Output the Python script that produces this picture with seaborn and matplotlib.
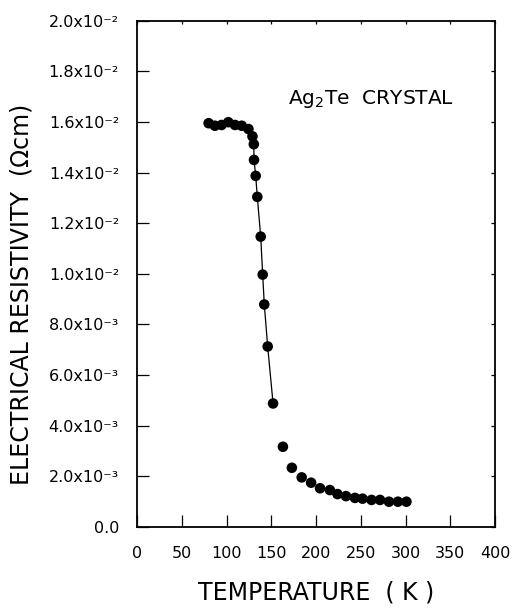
import matplotlib
matplotlib.use("Agg")
import matplotlib.pyplot as plt
import seaborn as sns
import pandas as pd

# Measured resistivity of the Ag2Te crystal versus temperature
temperature_k = [80, 87, 94.5, 102, 109.5, 117, 124.5, 129, 130.5, 130.7, 132.6,
                 134.4, 138.2, 140.4, 142.2, 146, 152, 163, 173, 184, 194.5,
                 204.5, 215.5, 224, 233.5, 243.5, 252, 262, 271.5, 281.5, 291.5, 301]
resistivity = [1.595e-2, 1.585e-2, 1.588e-2, 1.599e-2, 1.588e-2, 1.585e-2, 1.572e-2,
               1.543e-2, 1.512e-2, 1.450e-2, 1.387e-2, 1.304e-2, 1.147e-2, 9.97e-3,
               8.79e-3, 7.13e-3, 4.88e-3, 3.17e-3, 2.34e-3, 1.96e-3, 1.75e-3,
               1.53e-3, 1.46e-3, 1.30e-3, 1.22e-3, 1.15e-3, 1.12e-3, 1.07e-3,
               1.07e-3, 1.00e-3, 1.00e-3, 1.00e-3]
# points joined by the guide line across the transition
n_line = 17

x_ticks = [0, 50, 100, 150, 200, 250, 300, 350, 400]
y_ticks = [0.0, 2e-3, 4e-3, 6e-3, 8e-3, 1.0e-2, 1.2e-2, 1.4e-2, 1.6e-2, 1.8e-2, 2.0e-2]
y_tick_labels = ["0.0", "2.0x10\u207b\u00b3", "4.0x10\u207b\u00b3", "6.0x10\u207b\u00b3",
                 "8.0x10\u207b\u00b3", "1.0x10\u207b\u00b2", "1.2x10\u207b\u00b2",
                 "1.4x10\u207b\u00b2", "1.6x10\u207b\u00b2", "1.8x10\u207b\u00b2",
                 "2.0x10\u207b\u00b2"]

sns.set_theme(style="white")
plt.rcParams["font.family"] = ["DejaVu Sans"]
plt.rcParams["mathtext.fontset"] = "dejavusans"

df = pd.DataFrame({"T": temperature_k, "rho": resistivity})

fig = plt.figure(figsize=(5.22, 6.08), dpi=100)
ax = fig.add_axes([0.2625, 0.1332, 0.9483 - 0.2625, 0.966 - 0.1332])

sns.lineplot(data=df.iloc[:n_line], x="T", y="rho", ax=ax, color="black",
             linewidth=0.9, sort=False)
sns.scatterplot(data=df, x="T", y="rho", ax=ax, color="black", s=58,
                edgecolor="none", linewidth=0, zorder=3)

ax.set_xlim(0, 400)
ax.set_ylim(0, 0.02)
ax.set_xticks(x_ticks)
ax.set_xticklabels([str(v) for v in x_ticks])
ax.set_yticks(y_ticks)
ax.set_yticklabels(y_tick_labels)

for side in ["left", "right", "top", "bottom"]:
    ax.spines[side].set_visible(True)
    ax.spines[side].set_color("black")
    ax.spines[side].set_linewidth(1.3)

ax.tick_params(axis="both", which="major", direction="in", color="black",
               width=0.9, labelsize=11.5, labelcolor="black")
ax.tick_params(axis="x", bottom=True, top=True, length=8.5, pad=14)
ax.tick_params(axis="y", left=True, right=True, length=8.5, pad=13)
for t in ax.xaxis.get_major_ticks():
    t.tick2line.set_markersize(2)
for t in ax.yaxis.get_major_ticks():
    t.tick2line.set_markersize(3)

ax.set_xlabel("TEMPERATURE  ( K )", fontsize=17, color="black")
ax.xaxis.set_label_coords(0.5, -0.105)
ax.set_ylabel("ELECTRICAL RESISTIVITY  (\u03a9cm)", fontsize=17, color="black")
ax.yaxis.set_label_coords(-0.29, 0.46)

ax.text(0.422, 0.836, "Ag$_2$Te  CRYSTAL", transform=ax.transAxes, fontsize=14.5,
        color="black", ha="left", va="baseline")

fig.savefig("out.png", dpi=100, facecolor="white")
